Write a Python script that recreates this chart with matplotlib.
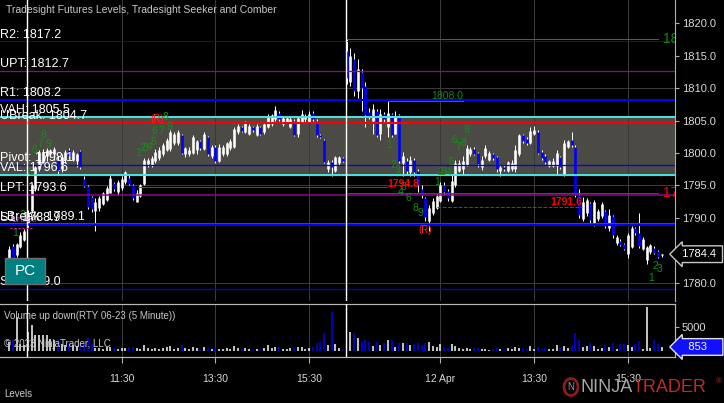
import numpy as np
import matplotlib.pyplot as plt
from matplotlib.transforms import blended_transform_factory
from matplotlib.patches import Rectangle, Ellipse

plt.rcParams['font.family'] = ['Liberation Sans', 'DejaVu Sans']

# 5 minute RTY 06-23 bars (bar index = position on the chart)
opens = [
    1783.5, 1785.6, 1784.2, 1785.5, 1786.6, 1789.0, 1791.1, 1794.5, 1797.6, 1798.6,
    1799.5, 1799.8, 1799.8, 1799.0, 1797.5, 1799.0, 1800.5, 1799.0, 1798.8, 1800.3,
    1796.0, 1794.9, 1793.2, 1791.1, 1791.5, 1792.2, 1792.8, 1793.9, 1795.4, 1794.0,
    1794.6, 1795.5, 1796.2, 1795.0, 1792.5, 1793.4, 1795.3, 1798.3, 1798.2, 1798.8,
    1799.3, 1799.8, 1800.5, 1800.6, 1801.5, 1801.5, 1802.8, 1799.8, 1799.8, 1800.0,
    1800.5, 1801.8, 1800.6, 1802.4, 1799.5, 1801.0, 1798.8, 1799.8, 1799.8, 1800.7,
    1801.0, 1803.2, 1804.0, 1803.3, 1803.0, 1804.0, 1802.8, 1804.0, 1803.2, 1804.0,
    1804.4, 1805.2, 1806.2, 1804.4, 1804.8, 1804.0, 1805.0, 1803.0, 1804.8, 1805.2,
    1804.8, 1806.2, 1805.0, 1802.8, 1802.0, 1797.5, 1798.6, 1797.2, 1798.4, 1799.2,
    1815.8, 1811.0, 1814.5, 1809.5, 1812.5, 1810.3, 1806.3, 1805.0, 1806.5, 1803.0,
    1806.0, 1804.0, 1806.0, 1803.0, 1805.8, 1798.5, 1798.8, 1797.0, 1799.0, 1797.3,
    1794.5, 1793.0, 1789.5, 1790.7, 1791.5, 1792.6, 1795.0, 1794.2, 1792.6, 1795.0,
    1797.2, 1797.6, 1798.2, 1799.8, 1800.6, 1800.0, 1797.8, 1799.5, 1799.0, 1799.8,
    1799.4, 1797.2, 1797.9, 1797.3, 1797.5, 1797.5, 1799.8, 1802.8, 1802.2, 1801.6,
    1803.0, 1803.2, 1800.2, 1799.5, 1798.0, 1798.0, 1798.0, 1799.4, 1796.8, 1801.0,
    1802.0, 1801.0, 1793.6, 1789.8, 1790.7, 1792.3, 1789.0, 1789.8, 1790.3, 1791.0,
    1788.5, 1790.3, 1786.2, 1786.5, 1786.0, 1784.5, 1785.5, 1788.4, 1787.6, 1785.2,
    1783.5, 1784.8, 1785.4, 1784.9, 1784.2]
highs = [
    1785.6, 1786.0, 1786.2, 1787.8, 1788.3, 1791.2, 1795.3, 1798.0, 1800.4, 1800.6,
    1800.7, 1800.6, 1801.0, 1799.5, 1799.8, 1800.5, 1800.8, 1800.5, 1800.0, 1800.5,
    1796.4, 1795.0, 1793.4, 1793.0, 1793.3, 1794.0, 1794.9, 1796.6, 1795.6, 1795.8,
    1796.5, 1797.3, 1796.6, 1795.2, 1794.3, 1795.2, 1799.3, 1799.3, 1799.5, 1800.6,
    1800.9, 1801.6, 1802.3, 1803.6, 1803.2, 1803.5, 1803.0, 1801.0, 1800.9, 1802.8,
    1802.0, 1802.0, 1803.2, 1802.6, 1801.3, 1801.2, 1801.4, 1801.2, 1801.7, 1802.1,
    1804.0, 1804.4, 1804.2, 1804.9, 1804.4, 1804.2, 1804.4, 1804.2, 1804.7, 1806.0,
    1806.0, 1807.2, 1806.5, 1805.6, 1805.6, 1805.6, 1805.2, 1805.6, 1806.6, 1806.0,
    1806.5, 1806.5, 1805.2, 1803.0, 1802.2, 1798.9, 1798.9, 1799.6, 1799.6, 1799.4,
    1817.6, 1816.2, 1815.5, 1814.5, 1813.0, 1811.0, 1807.0, 1807.5, 1806.8, 1806.8,
    1806.4, 1808.0, 1806.2, 1806.5, 1806.0, 1800.2, 1799.2, 1799.5, 1799.2, 1797.5,
    1795.0, 1793.2, 1792.0, 1793.0, 1793.8, 1795.6, 1795.5, 1794.5, 1796.8, 1799.0,
    1799.0, 1799.5, 1801.2, 1801.0, 1801.0, 1800.2, 1799.5, 1801.2, 1800.3, 1800.0,
    1799.6, 1798.2, 1798.2, 1798.8, 1799.0, 1801.2, 1803.0, 1803.0, 1802.4, 1804.0,
    1804.2, 1803.5, 1800.4, 1799.8, 1799.0, 1799.2, 1800.5, 1799.6, 1802.0, 1802.0,
    1803.2, 1801.3, 1794.5, 1793.2, 1793.0, 1792.5, 1792.8, 1791.4, 1792.5, 1791.2,
    1791.3, 1790.5, 1787.3, 1786.8, 1786.2, 1787.6, 1788.8, 1788.6, 1790.8, 1787.0,
    1785.7, 1786.0, 1785.7, 1785.0, 1784.5]
lows = [
    1783.0, 1783.2, 1784.0, 1785.3, 1786.4, 1788.6, 1790.8, 1794.2, 1797.3, 1798.4,
    1798.7, 1799.4, 1799.0, 1796.8, 1797.0, 1798.5, 1799.2, 1798.7, 1797.8, 1797.5,
    1794.7, 1791.3, 1790.9, 1788.0, 1791.0, 1792.0, 1792.6, 1793.8, 1794.1, 1793.6,
    1794.3, 1795.3, 1795.0, 1792.7, 1792.4, 1793.2, 1795.0, 1797.8, 1797.9, 1798.5,
    1799.0, 1799.6, 1800.3, 1800.3, 1801.3, 1801.2, 1799.8, 1799.4, 1799.5, 1799.8,
    1799.8, 1800.5, 1800.4, 1799.6, 1799.3, 1798.5, 1798.6, 1799.6, 1799.5, 1800.5,
    1800.8, 1803.0, 1803.2, 1803.1, 1802.8, 1803.3, 1802.6, 1802.8, 1803.0, 1803.8,
    1804.2, 1805.0, 1805.0, 1804.2, 1804.6, 1803.8, 1802.6, 1802.4, 1804.6, 1804.8,
    1804.6, 1805.0, 1802.5, 1802.3, 1798.4, 1797.0, 1796.4, 1797.0, 1798.1, 1798.6,
    1810.6, 1810.4, 1808.8, 1808.5, 1806.5, 1804.0, 1805.2, 1803.0, 1802.5, 1802.0,
    1804.8, 1802.5, 1802.5, 1803.0, 1798.5, 1796.5, 1796.8, 1796.5, 1796.5, 1794.0,
    1793.0, 1789.5, 1788.0, 1790.4, 1791.3, 1792.4, 1793.5, 1792.6, 1792.5, 1794.8,
    1797.0, 1796.8, 1798.0, 1799.5, 1799.7, 1797.8, 1797.4, 1799.3, 1798.8, 1799.0,
    1797.0, 1796.4, 1797.3, 1797.0, 1797.2, 1797.0, 1799.5, 1801.5, 1801.2, 1801.4,
    1802.8, 1799.8, 1798.9, 1798.3, 1797.8, 1797.8, 1796.8, 1797.5, 1796.5, 1800.8,
    1801.0, 1793.2, 1790.0, 1789.5, 1790.3, 1789.2, 1788.8, 1789.5, 1790.0, 1788.5,
    1788.0, 1786.9, 1785.8, 1785.6, 1785.0, 1783.8, 1785.3, 1787.4, 1785.4, 1785.0,
    1782.9, 1784.5, 1784.4, 1783.8, 1784.0]
closes = [
    1785.2, 1783.8, 1786.0, 1787.4, 1788.0, 1790.8, 1795.0, 1797.8, 1800.2, 1800.2,
    1800.5, 1800.4, 1800.6, 1797.2, 1799.4, 1800.2, 1799.5, 1800.2, 1799.9, 1797.8,
    1794.9, 1791.6, 1791.3, 1792.5, 1793.0, 1793.8, 1794.6, 1796.1, 1794.4, 1795.6,
    1796.0, 1797.0, 1795.3, 1793.0, 1793.8, 1795.0, 1798.9, 1799.0, 1799.2, 1800.2,
    1800.4, 1801.2, 1802.0, 1803.2, 1802.9, 1803.2, 1800.0, 1800.8, 1800.5, 1802.4,
    1801.8, 1800.8, 1803.0, 1799.8, 1801.0, 1798.8, 1801.0, 1801.0, 1801.5, 1801.9,
    1803.7, 1804.2, 1803.4, 1804.6, 1804.2, 1803.5, 1804.2, 1803.0, 1804.5, 1805.6,
    1805.8, 1806.6, 1805.2, 1805.4, 1805.4, 1805.3, 1802.8, 1805.4, 1806.0, 1805.6,
    1806.0, 1805.2, 1802.8, 1802.5, 1798.6, 1798.6, 1797.9, 1799.4, 1799.4, 1798.8,
    1811.5, 1815.0, 1809.5, 1813.0, 1810.0, 1805.8, 1805.6, 1806.8, 1802.8, 1806.0,
    1805.2, 1806.2, 1802.8, 1805.6, 1798.8, 1799.5, 1797.3, 1799.0, 1797.0, 1795.0,
    1793.6, 1790.2, 1791.5, 1792.6, 1793.4, 1795.0, 1794.0, 1793.0, 1795.7, 1798.4,
    1798.4, 1798.8, 1800.8, 1800.6, 1799.9, 1798.3, 1799.0, 1800.8, 1800.0, 1799.3,
    1797.6, 1797.9, 1797.5, 1798.6, 1798.5, 1800.5, 1802.8, 1801.8, 1801.5, 1803.4,
    1803.5, 1800.0, 1799.2, 1798.6, 1798.8, 1798.8, 1800.0, 1797.8, 1801.5, 1801.8,
    1801.3, 1793.5, 1790.5, 1792.4, 1792.8, 1789.6, 1792.4, 1791.0, 1792.1, 1788.8,
    1790.5, 1787.3, 1787.0, 1785.8, 1785.2, 1787.4, 1788.5, 1787.7, 1785.7, 1786.8,
    1785.5, 1785.8, 1784.6, 1784.0, 1784.4]
volumes = [
    1800, 2600, 7200, 1500, 1200, 4000, 5500, 3400, 3400, 3300,
    3400, 2500, 2400, 2600, 1500, 1300, 1600, 1200, 1000, 1700,
    1500, 2800, 1400, 700, 600, 500, 900, 800, 600, 500,
    700, 600, 800, 900, 700, 500, 1200, 600, 500, 700,
    400, 600, 800, 1100, 500, 600, 1300, 700, 500, 900,
    600, 500, 800, 700, 400, 600, 500, 400, 600, 500,
    1100, 600, 500, 700, 400, 300, 500, 400, 600, 1200,
    700, 900, 800, 500, 400, 600, 700, 800, 900, 500,
    600, 900, 1700, 1900, 3700, 1200, 8300, 1400, 600, 500,
    9300, 4100, 3900, 2700, 1900, 2400, 1800, 1000, 1800, 1200,
    1700, 2400, 2400, 900, 1700, 1700, 1600, 1200, 1500, 1600,
    1200, 1700, 1900, 1100, 800, 1500, 900, 700, 1500, 1100,
    600, 500, 700, 500, 600, 700, 400, 500, 300, 500,
    600, 400, 300, 700, 500, 900, 600, 700, 500, 1100,
    500, 800, 500, 600, 400, 500, 1200, 700, 1000, 600,
    1000, 3700, 2400, 800, 1100, 1700, 1000, 500, 700, 1200,
    900, 1600, 500, 1400, 1500, 1300, 900, 1500, 2100, 500,
    9300, 700, 2300, 1500, 853]

session_starts = [5, 90]
time_ticks = [30, 55, 80, 115, 140, 165]
time_labels = ["11:30", "13:30", "15:30", "12 Apr", "13:30", "15:30"]
price_grid = [1780, 1795, 1810]

# Tradesight Futures Levels
level_names = ["R2", "UPT", "R1", "VAH", "UBreak", "Pivot", "VAL", "LPT", "LBreak", "S1", "S2"]
level_values = [1817.2, 1812.7, 1808.2, 1805.5, 1804.7, 1798.1, 1796.6, 1793.6, 1789.1, 1788.9, 1779.0]
level_colors = ['#0000ff', '#8a0a8a', '#0000ff', '#48e0e0', '#ff0000', '#0000ff',
                '#48e0e0', '#8a0a8a', '#ff0000', '#0000ff', '#0000ff']
level_px = [1.0, 1.3, 2.0, 2.0, 2.0, 1.3, 2.0, 1.5, 2.0, 2.0, 1.3]

# Seeker / Comber drawings: segments (bar start, bar end, price)
seg_start = [90, 34.4, 90.4, 101, 114]
seg_end = [173, 100.8, 173, 121, 152.8]
seg_price = [1817.6, 1794.8, 1793.9, 1808.0, 1791.6]
seg_color = ['#138a13', '#ff0000', '#ff0000', '#138a13', '#ff0000']

# Seeker counts (bar, price, label)
count_bar = [1.6, 3.5, 5.9, 6.9, 8.3, 9.1, 10.4,
             34.4, 35.5, 36.5, 37.6, 38.4, 38.9, 40.5, 41.6, 42.7,
             101.3, 102.4, 103.5, 104.3, 105.1, 106.4, 108.5, 109.6,
             114.1, 114.9, 116.0, 117.1, 118.1, 118.9, 119.7, 121.1, 122.1,
             171.2, 172.3, 173.6]
count_price = [1787.7, 1790.4, 1797.1, 1800.45, 1801.4, 1802.8, 1801.4,
               1800.0, 1800.8, 1800.8, 1800.9, 1801.7, 1803.4, 1803.4, 1805.55, 1804.0,
               1801.2, 1798.2, 1797.4, 1794.0, 1794.8, 1793.1, 1791.5, 1790.8,
               1795.5, 1797.1, 1797.1, 1797.1, 1798.6, 1802.0, 1800.9, 1801.5, 1803.5,
               1780.7, 1782.6, 1782.1]
count_text = ["1", "2", "5", "6", "7", "8", "9",
              "1", "2", "3", "4", "5", "6", "7", "8", "9",
              "1", "2", "3", "4", "5", "6", "8", "9",
              "1", "2", "3", "4", "5", "6", "7", "8", "9",
              "1", "2", "3"]
reversal_bar = [39.5, 110.9]
reversal_price = [1805.2, 1788.2]

W, H = 724, 403
fig = plt.figure(figsize=(W / 100, H / 100), dpi=100, facecolor='black')
ax = fig.add_axes([0, 1 - 301 / H, 675 / W, 301 / H], facecolor='black')
axv = fig.add_axes([0, 1 - 357 / H, 675 / W, 53 / H], facecolor='black', sharex=ax)

o = np.array(opens); c = np.array(closes)
hi = np.array(highs); lo = np.array(lows)
idx = np.arange(len(o))
up = c >= o
bar_cols = np.where(up, '#ffffff', '#0000ff')

PX = 0.72  # one pixel in points

# value area + grid
ax.axhspan(level_values[6], level_values[3], color='#4b4a44', zorder=0)
for g in price_grid:
    ax.axhline(g, color='#3a3a3a', lw=1 * PX, zorder=0.5)
for t in time_ticks:
    ax.axvline(t, color='#3a3a3a', lw=1 * PX, zorder=0.5)
    axv.axvline(t, color='#3a3a3a', lw=1 * PX, zorder=0.5)

# candles
ax.vlines(idx, lo, hi, color='#ffffff', lw=1 * PX, zorder=2)
ax.vlines(idx, np.minimum(o, c), np.maximum(o, c), colors=bar_cols, lw=2.6 * PX, zorder=2.1)

# levels
trans = blended_transform_factory(ax.transAxes, ax.transData)
for name, val, col, w in zip(level_names, level_values, level_colors, level_px):
    ax.axhline(val, color=col, lw=w * PX, zorder=3)
for name, val in zip(level_names, level_values):
    ax.text(0.0, val + 0.15, f"{name}: {val:.1f}", transform=trans, color='white',
            fontsize=9, ha='left', va='bottom', zorder=6)

# seeker lines
for s, e, p, col in zip(seg_start, seg_end, seg_price, seg_color):
    ls = '--' if p == seg_price[4] else '-'
    ax.plot([s, e], [p, p], color=col, lw=1 * PX, ls=ls, zorder=3.5)
ax.text(seg_end[0] + 1.3, seg_price[0], f"{seg_price[0]:.1f}", color=seg_color[0],
        fontsize=10, ha='left', va='center', zorder=6, clip_on=True)
ax.text(seg_end[2] + 1.3, seg_price[2], f"{seg_price[2]:.1f}", color=seg_color[2],
        fontsize=10, ha='left', va='center', zorder=6, clip_on=True)
ax.text(seg_end[1], seg_price[1] + 0.5, f"{seg_price[1]:.1f}", color=seg_color[1],
        fontsize=7.5, fontweight='bold', ha='left', va='center', zorder=6)
ax.text(seg_end[3], seg_price[3] + 0.1, f"{seg_price[3]:.1f}", color=seg_color[3],
        fontsize=7.5, ha='right', va='bottom', zorder=6)
ax.text(seg_end[4], seg_price[4] + 0.1, f"{seg_price[4]:.1f}", color=seg_color[4],
        fontsize=7.5, fontweight='bold', ha='right', va='bottom', zorder=6)

# magenta seeker tag near the open
ax.text(0.5, 1789.6, "1788.8", color='#e020e0', fontsize=6, ha='left', va='center', zorder=5.5)
ax.plot([0.3, 6.0], [1788.5, 1788.5], color='#e020e0', lw=1 * PX, ls=(0, (2, 2)), zorder=5.5)

for b, p, t in zip(count_bar, count_price, count_text):
    ax.text(b, p, t, color='#178f17', fontsize=7.5, ha='center', va='center', zorder=5)
for b, p in zip(reversal_bar, reversal_price):
    ax.text(b, p, "(R)", color='#ff2020', fontsize=7, ha='center', va='center', zorder=5)

# session breaks
for s in session_starts:
    ax.axvline(s - 0.2, color='white', lw=1.4 * PX, zorder=4)
    axv.axvline(s - 0.2, color='white', lw=1.4 * PX, zorder=4)

ax.set_xlim(-2.4, 177.6)
ax.set_ylim(1777.18, 1823.6)

# price axis
ax.yaxis.tick_right()
ax.set_yticks(np.arange(1780, 1821, 5))
ax.set_yticklabels([f"{v:.1f}" for v in np.arange(1780, 1821, 5)])
ax.tick_params(axis='y', colors='#b0b0b0', labelcolor='#d8d8d8', labelsize=8,
               length=3, width=0.8, pad=2)
ax.tick_params(axis='x', bottom=False, labelbottom=False)
for sp in ['left', 'top', 'bottom']:
    ax.spines[sp].set_visible(False)
ax.spines['right'].set_color('#b0b0b0')

# volume panel
axv.vlines(idx, 0, volumes, colors=bar_cols, lw=1.5 * PX, zorder=2)
axv.set_ylim(-1266, 9917)
axv.yaxis.tick_right()
axv.set_yticks([5000])
axv.set_yticklabels(["5000"])
axv.set_xticks(time_ticks)
axv.set_xticklabels(time_labels)
axv.tick_params(axis='y', colors='#b0b0b0', labelcolor='#d8d8d8', labelsize=8,
                length=3, width=0.8, pad=2)
axv.tick_params(axis='x', colors='#b0b0b0', labelcolor='#d8d8d8', labelsize=7.5,
                length=4, width=0.8, pad=8)
axv.spines['left'].set_visible(False)
for sp in ['top', 'bottom', 'right']:
    axv.spines[sp].set_color('#b8b8b8')
    axv.spines[sp].set_linewidth(1.2 * PX)

# last price / last volume markers
vtrans = blended_transform_factory(axv.transAxes, axv.transData)
ax.text(1.006, c[-1], f" {c[-1]:.1f} ", transform=trans, ha='left', va='center',
        color='white', fontsize=8, clip_on=False, zorder=8,
        bbox=dict(boxstyle='larrow,pad=0.3', fc='black', ec='#c8c8c8', lw=1))
axv.text(1.006, volumes[-1], f"   {volumes[-1]}    ", transform=vtrans, ha='left', va='center',
         color='white', fontsize=8, clip_on=False, zorder=8,
         bbox=dict(boxstyle='larrow,pad=0.3', fc='#1010ff', ec='#e0e0e0', lw=1))

# overlay texts
fig.text(6 / W, 1 - 10 / H, "Tradesight Futures Levels, Tradesight Seeker and Comber",
         color='#c8c8c8', fontsize=7.5, ha='left', va='center')
fig.text(4 / W, 1 - 316 / H, "Volume up down(RTY 06-23 (5 Minute))",
         color='#c8c8c8', fontsize=7, ha='left', va='center')
fig.text(4 / W, 1 - 344 / H, "\u00a9 2023 NinjaTrader, LLC",
         color='#c8c8c8', fontsize=7, ha='left', va='center')
fig.text(4 / W, 1 - 394 / H, "Levels", color='#c8c8c8', fontsize=7, ha='left', va='center')

# PC button
fig.add_artist(Rectangle((5 / W, 1 - 284 / H), 40 / W, 26 / H, transform=fig.transFigure,
                         fc='#008080', ec='#707070', lw=1, zorder=10))
fig.text(25 / W, 1 - 271 / H, "PC", color='white', fontsize=11, ha='center', va='center', zorder=11)

# NinjaTrader logo
fig.add_artist(Ellipse((571 / W, 1 - 387 / H), 14 / W, 17 / H, transform=fig.transFigure,
                       fc='none', ec='#8a1e1e', lw=2, zorder=10))
fig.text(571 / W, 1 - 387 / H, "N", color='#9a9a9a', fontsize=7, ha='center', va='center', zorder=11)
fig.text(581 / W, 1 - 387 / H, "NINJA", color='#a8a8a8', fontsize=13, ha='left', va='center')
fig.text(633 / W, 1 - 387 / H, "TRADER", color='#c0282d', fontsize=13, ha='left', va='center')
fig.text(716 / W, 1 - 382 / H, "\u00ae", color='#c0282d', fontsize=6, ha='left', va='center')

fig.savefig("out.png", dpi=100, facecolor='black')
